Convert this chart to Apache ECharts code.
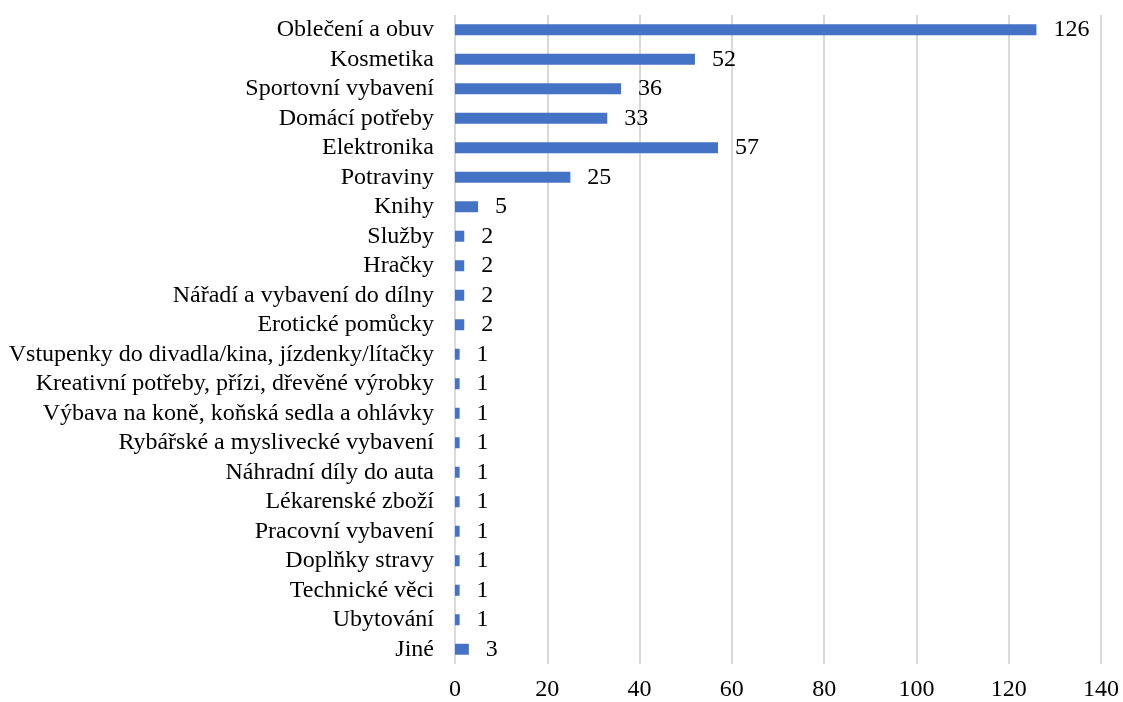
<!DOCTYPE html>
<html>
<head>
<meta charset="utf-8">
<script src="https://cdn.jsdelivr.net/npm/echarts@6/dist/echarts.min.js"></script>
<style>
    html, body { margin: 0; padding: 0; background: #fff; }
    #chart { width: 1123px; height: 702px; }
</style>
</head>
<body>
<div id="chart"></div>
<script>
var categories = [
    'Oblečení a obuv',
    'Kosmetika',
    'Sportovní vybavení',
    'Domácí potřeby',
    'Elektronika',
    'Potraviny',
    'Knihy',
    'Služby',
    'Hračky',
    'Nářadí a vybavení do dílny',
    'Erotické pomůcky',
    'Vstupenky do divadla/kina, jízdenky/lítačky',
    'Kreativní potřeby, přízi, dřevěné výrobky',
    'Výbava na koně, koňská sedla a ohlávky',
    'Rybářské a myslivecké vybavení',
    'Náhradní díly do auta',
    'Lékarenské zboží',
    'Pracovní vybavení',
    'Doplňky stravy',
    'Technické věci',
    'Ubytování',
    'Jiné'
];
var counts = [126, 52, 36, 33, 57, 25, 5, 2, 2, 2, 2, 1, 1, 1, 1, 1, 1, 1, 1, 1, 1, 3];
var xMin = 0, xMax = 140, xStep = 20;

var FONT = '"Liberation Serif", "Times New Roman", serif';

var chart = echarts.init(document.getElementById('chart'));
chart.setOption({
    animation: false,
    textStyle: { fontFamily: FONT },
    grid: {
        left: 455,
        right: 22,
        top: 15,
        bottom: 37
    },
    xAxis: {
        type: 'value',
        min: xMin,
        max: xMax,
        interval: xStep,
        axisLine: { show: false },
        axisTick: { show: false },
        axisLabel: {
            color: '#000',
            fontFamily: FONT,
            fontSize: 24,
            margin: 14
        },
        splitLine: {
            show: true,
            lineStyle: { color: '#d9d9d9', width: 2 }
        }
    },
    yAxis: {
        type: 'category',
        data: categories,
        inverse: true,
        axisLine: { show: false },
        axisTick: { show: false },
        axisLabel: {
            interval: 0,
            color: '#000',
            fontFamily: FONT,
            fontSize: 24,
            margin: 21
        },
        splitLine: { show: false }
    },
    series: [
        {
            type: 'bar',
            data: counts,
            barWidth: 11,
            itemStyle: { color: '#4472c4' },
            label: {
                show: true,
                position: 'right',
                distance: 17,
                color: '#000',
                fontFamily: FONT,
                fontSize: 24
            }
        }
    ]
});
</script>
</body>
</html>
